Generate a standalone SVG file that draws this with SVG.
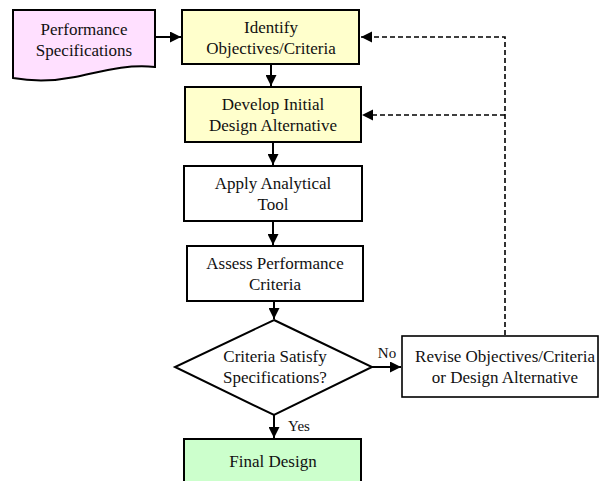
<svg xmlns="http://www.w3.org/2000/svg" width="600" height="481" viewBox="0 0 600 481">
  <style>
    .box { stroke: #000; stroke-width: 2; }
    .plain { fill: #fff; }
    .yellow { fill: #FFFFCC; }
    .green { fill: #CCFFCC; }
    .pink { fill: #FFE0FF; }
    text { font-family: "Liberation Serif", "Times New Roman", serif; font-size: 17px; fill: #111; text-anchor: middle; }
    .lbl { font-size: 15px; }
    .flow { stroke: #000; stroke-width: 2; fill: none; }
    .dash { stroke: #000; stroke-width: 1.6; fill: none; stroke-dasharray: 5 3; }
  </style>
  <defs>
    <marker id="arrow" viewBox="0 0 10 10" refX="10" refY="5" markerWidth="5.5" markerHeight="5.5" markerUnits="strokeWidth" orient="auto">
      <path d="M0,0 L10,5 L0,10 Z" fill="#000"/>
    </marker>
    <marker id="arrowD" viewBox="0 0 10 10" refX="10" refY="5" markerWidth="7" markerHeight="7" markerUnits="strokeWidth" orient="auto">
      <path d="M0,0 L10,5 L0,10 Z" fill="#000"/>
    </marker>
  </defs>

  <!-- connectors -->
  <g id="connectors">
    <line class="flow" x1="155" y1="37" x2="181" y2="37" marker-end="url(#arrow)"/>
    <line class="flow" x1="271" y1="65" x2="271" y2="86" marker-end="url(#arrow)"/>
    <line class="flow" x1="273" y1="143" x2="273" y2="165" marker-end="url(#arrow)"/>
    <line class="flow" x1="273" y1="222" x2="273" y2="245" marker-end="url(#arrow)"/>
    <line class="flow" x1="274" y1="302" x2="274" y2="319" marker-end="url(#arrow)"/>
    <line class="flow" x1="372" y1="367" x2="401" y2="367" marker-end="url(#arrow)"/>
    <line class="flow" x1="274" y1="415" x2="274" y2="438" marker-end="url(#arrow)"/>
    <polyline class="dash" points="505,335 505,37 361,37" marker-end="url(#arrowD)"/>
    <line class="dash" x1="505" y1="115" x2="362" y2="115" marker-end="url(#arrowD)"/>
    <text class="lbl" x="387" y="358">No</text>
    <text class="lbl" x="299" y="431">Yes</text>
  </g>

  <g id="performance-specifications">
    <path class="box pink" d="M13,10 L155,10 L155,67 C125,64 100,72 75,77 C50,82 30,81 13,78 Z"/>
    <text x="84" y="35">Performance</text>
    <text x="84" y="56">Specifications</text>
  </g>

  <g id="identify-objectives">
    <rect class="box yellow" x="182" y="10" width="177" height="54"/>
    <text x="271" y="33">Identify</text>
    <text x="271" y="54">Objectives/Criteria</text>
  </g>

  <g id="develop-design">
    <rect class="box yellow" x="185" y="87" width="176" height="55"/>
    <text x="273" y="110">Develop Initial</text>
    <text x="273" y="131">Design Alternative</text>
  </g>

  <g id="apply-tool">
    <rect class="box plain" x="184" y="166" width="178" height="55"/>
    <text x="273" y="189">Apply Analytical</text>
    <text x="273" y="210">Tool</text>
  </g>

  <g id="assess-criteria">
    <rect class="box plain" x="187" y="246" width="176" height="55"/>
    <text x="275" y="269">Assess Performance</text>
    <text x="275" y="290">Criteria</text>
  </g>

  <g id="criteria-decision">
    <polygon class="box plain" points="274,320 372,367 274,415 175,367"/>
    <text x="275" y="362">Criteria Satisfy</text>
    <text x="275" y="383">Specifications?</text>
  </g>

  <g id="revise">
    <rect class="box plain" x="402" y="336" width="196" height="61" style="stroke-width:1.6"/>
    <text x="505" y="362">Revise Objectives/Criteria</text>
    <text x="505" y="383">or Design Alternative</text>
  </g>

  <g id="final-design">
    <rect class="box green" x="184" y="439" width="177" height="50"/>
    <text x="273" y="467">Final Design</text>
  </g>
</svg>
